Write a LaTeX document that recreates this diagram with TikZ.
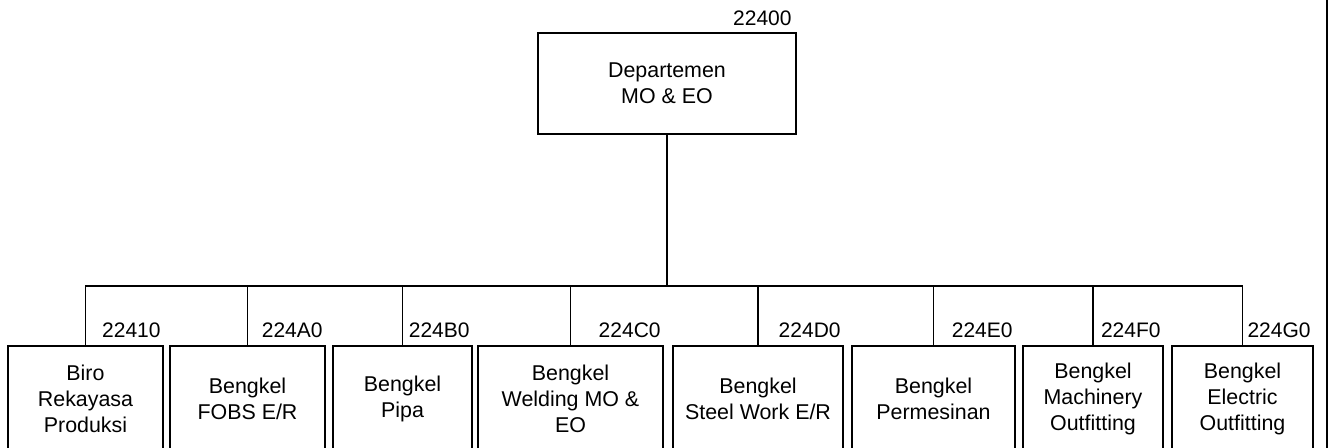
\documentclass[tikz,border=0pt]{standalone}
\usepackage{fontspec}
\setmainfont{Liberation Sans}
\usetikzlibrary{positioning}

\begin{document}
\begin{tikzpicture}[x=0.5pt, y=-0.5pt,
    unit/.style={draw, line width=0.9pt, align=center, inner sep=2pt, outer sep=0pt,
                 minimum height=53pt, font=\fontsize{10.7}{13}\selectfont},
    code/.style={anchor=base east, inner sep=0pt,
                 font=\fontsize{10.5}{13}\selectfont},
    link/.style={line width=0.9pt}]
        \useasboundingbox (0,0) rectangle (1329,448);
        \clip (0,0) rectangle (1329,448);
        % departemen
        \node[unit, minimum width=129pt, minimum height=50.5pt] (dept) at (667,83.5)
             {Departemen\\MO \& EO};
        \node[code] (dept-code) at ([xshift=-2pt, yshift=3.5pt]dept.north east) {22400};
        \coordinate (bus) at (667,286);
        % bengkel dan biro
        \node[unit, minimum width=77.5pt] (biro) at (85.5,399)
             {Biro\\Rekayasa\\Produksi};
        \node[unit, minimum width=77.5pt, right=3.5pt of biro] (fobs)
             {Bengkel\\FOBS E/R};
        \node[unit, minimum width=69.5pt, right=4pt of fobs] (pipa)
             {Bengkel\\Pipa};
        \node[unit, minimum width=92.5pt, right=3pt of pipa] (welding)
             {Bengkel\\Welding MO \&\\EO};
        \node[unit, minimum width=85pt, right=5pt of welding] (steel)
             {Bengkel\\Steel Work E/R};
        \node[unit, minimum width=81.5pt, right=4.5pt of steel] (mesin)
             {Bengkel\\Permesinan};
        \node[unit, minimum width=70pt, right=4pt of mesin] (machinery)
             {Bengkel\\Machinery\\Outfitting};
        \node[unit, minimum width=70.5pt, right=4.5pt of machinery] (electric)
             {Bengkel\\Electric\\Outfitting};
        % kode unit
        \node[code] (biro-code)      at ([xshift=-1pt, yshift=4pt]biro.north east) {22410};
        \node[code] (fobs-code)      at ([xshift=-1pt, yshift=4pt]fobs.north east) {224A0};
        \node[code] (pipa-code)      at ([xshift=-1pt, yshift=4pt]pipa.north east) {224B0};
        \node[code] (welding-code)   at ([xshift=-1pt, yshift=4pt]welding.north east) {224C0};
        \node[code] (steel-code)     at ([xshift=-1pt, yshift=4pt]steel.north east) {224D0};
        \node[code] (mesin-code)     at ([xshift=-1pt, yshift=4pt]mesin.north east) {224E0};
        \node[code] (machinery-code) at ([xshift=-1pt, yshift=4pt]machinery.north east) {224F0};
        \node[code] (electric-code)  at ([xshift=-1pt, yshift=4pt]electric.north east) {224G0};
        % garis
        \draw[link] (dept.south) -- (bus);
        \draw[link] (bus) -| (biro.north);
        \draw[link] (bus) -| (fobs.north);
        \draw[link] (bus) -| (pipa.north);
        \draw[link] (bus) -| (welding.north);
        \draw[link] (bus) -| (steel.north);
        \draw[link] (bus) -| (mesin.north);
        \draw[link] (bus) -| (machinery.north);
        \draw[link] (bus) -| (electric.north);
        \draw[line width=1pt] (1327,0) -- (1327,448);
      \end{tikzpicture}
\end{document}
